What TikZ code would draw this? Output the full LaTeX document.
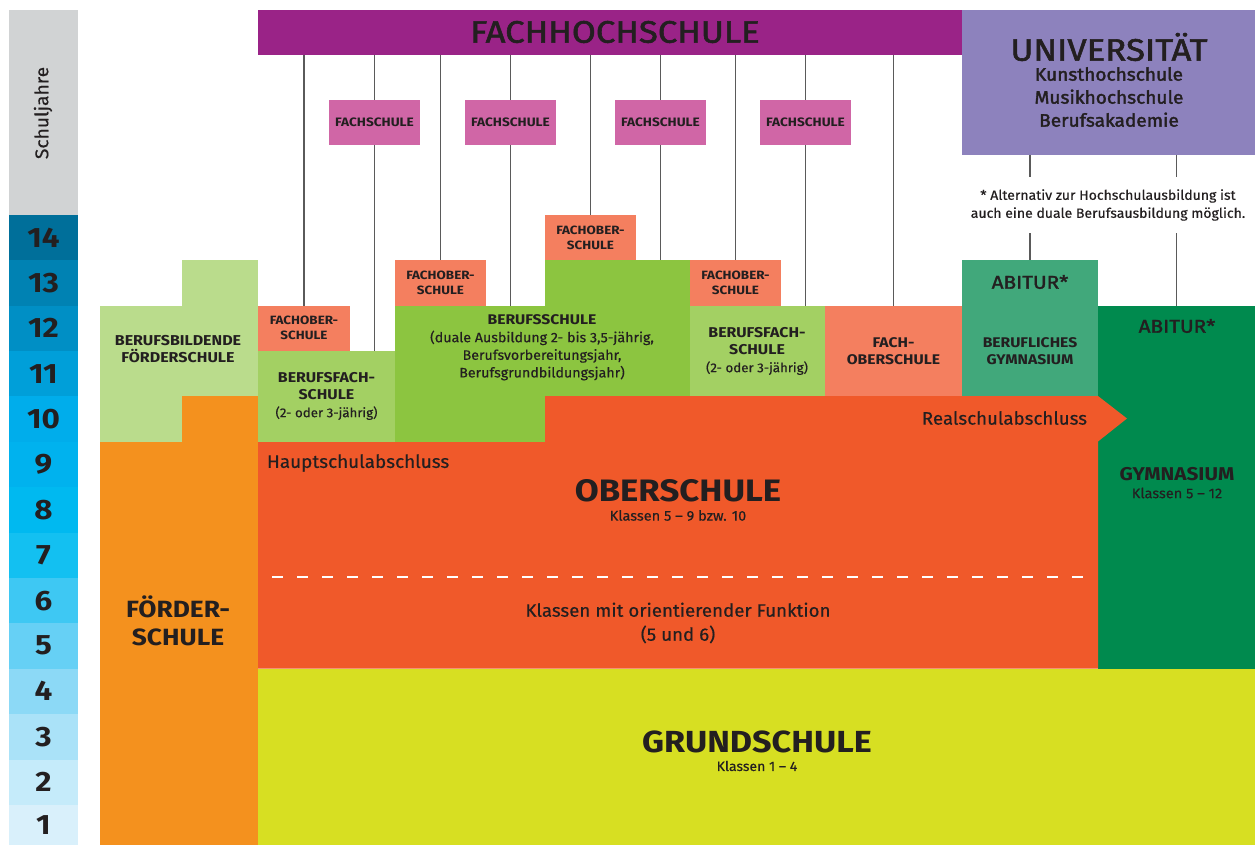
\documentclass[tikz,border=0pt]{standalone}
\usepackage{fontspec}
\setmainfont{Fira Sans}[UprightFeatures={FakeStretch=1.04, FakeBold=0.4}, BoldFeatures={FakeStretch=1.12}]
\newfontfamily\capsfont{Fira Sans}[FakeStretch=1.12, FakeBold=1.8]
\newfontfamily\medfont{Fira Sans}[FakeStretch=1.06, FakeBold=2]
\usetikzlibrary{calc}
\definecolor{txt}{HTML}{231F20}
\definecolor{ygrey}{HTML}{D1D3D4}
\definecolor{yA}{HTML}{006F9A}
\definecolor{yB}{HTML}{0082B3}
\definecolor{yC}{HTML}{008FC5}
\definecolor{yD}{HTML}{009FD9}
\definecolor{yE}{HTML}{00ADEB}
\definecolor{yF}{HTML}{00B2EE}
\definecolor{yG}{HTML}{00B9F0}
\definecolor{yH}{HTML}{13C0F1}
\definecolor{yI}{HTML}{3EC8F3}
\definecolor{yJ}{HTML}{66D0F5}
\definecolor{yK}{HTML}{8CD9F6}
\definecolor{yL}{HTML}{AAE2F8}
\definecolor{yM}{HTML}{C5EBFA}
\definecolor{yN}{HTML}{D9F0FB}
\definecolor{fhc}{HTML}{9A2387}
\definecolor{unic}{HTML}{8D82BD}
\definecolor{fsc}{HTML}{D066A6}
\definecolor{fobc}{HTML}{F47F5F}
\definecolor{bfsc}{HTML}{A3D063}
\definecolor{bsc}{HTML}{8CC540}
\definecolor{bfoc}{HTML}{BADC8C}
\definecolor{foec}{HTML}{F4911E}
\definecolor{obc}{HTML}{F0592A}
\definecolor{gsc}{HTML}{D7DF22}
\definecolor{bgc}{HTML}{41A87B}
\definecolor{gyc}{HTML}{008A4E}
\definecolor{linec}{HTML}{5A5A5A}
\newcommand\fsz[2]{\fontsize{#1}{#2}\selectfont}
\tikzset{
  area/.style={rectangle, inner sep=0pt, outer sep=0pt, anchor=north west, draw=none},
  yr/.style={area, minimum width=69pt, text=txt, font=\fsz{28}{30}\bfseries},
  lbl/.style={inner sep=0pt, outer sep=0pt, align=center, text=txt},
  fsbox/.style={area, fill=fsc, minimum width=91pt, minimum height=45.5pt, font=\fsz{12.2}{14}\bfseries, text=txt},
  fobtext/.style={lbl, font=\fsz{12}{15}\bfseries},
  conn/.style={draw=linec, line width=1.3pt},
}
\begin{document}
\begin{tikzpicture}[x=1pt,y=-1pt]
\useasboundingbox (0,0) rectangle (1255,845);
\fill[white] (0,0) rectangle (1255,845);
% year column
\node[area, fill=ygrey, minimum width=69pt, minimum height=205pt] (ygr) at (9,10) {};
\node[lbl, rotate=90, font=\fsz{18.5}{20}] (sj) at (43,113) {Schuljahre};
\node[yr, fill=yA, minimum height=45.5pt] (y14) at (9,215) {14};
\node[yr, fill=yB, minimum height=45.5pt] (y13) at (9,260) {13};
\node[yr, fill=yC, minimum height=45.5pt] (y12) at (9,305.5) {12};
\node[yr, fill=yD, minimum height=45.5pt] (y11) at (9,351) {11};
\node[yr, fill=yE, minimum height=45.5pt] (y10) at (9,396) {10};
\node[yr, fill=yF, minimum height=45.5pt] (y9) at (9,441.5) {9};
\node[yr, fill=yG, minimum height=45.5pt] (y8) at (9,487) {8};
\node[yr, fill=yH, minimum height=45.5pt] (y7) at (9,532.5) {7};
\node[yr, fill=yI, minimum height=45.5pt] (y6) at (9,578) {6};
\node[yr, fill=yJ, minimum height=45.5pt] (y5) at (9,623) {5};
\node[yr, fill=yK, minimum height=45.5pt] (y4) at (9,668.5) {4};
\node[yr, fill=yL, minimum height=45.5pt] (y3) at (9,714) {3};
\node[yr, fill=yM, minimum height=45.5pt] (y2) at (9,759.5) {2};
\node[yr, fill=yN, minimum height=40pt] (y1) at (9,805) {1};

% top institutions
\node[area, fill=fhc, minimum width=704pt, minimum height=45pt] (fh) at (258,10) {};
\node[lbl, font=\capsfont\fsz{31}{33}] (fht) at (615,32) {FACHHOCHSCHULE};
\node[area, fill=unic, minimum width=293pt, minimum height=145pt] (uni) at (962,10) {};
\node[lbl, font=\capsfont\fsz{31}{33}] (unit) at (1109,47) {UNIVERSITÄT};
\node[lbl, font=\medfont\fsz{18}{23}] (unis) at (1109,97) {Kunsthochschule\\Musikhochschule\\Berufsakademie};

% Fachschulen
\node[fsbox] (fs1) at (329,100) {FACHSCHULE};
\node[fsbox] (fs2) at (465,100) {FACHSCHULE};
\node[fsbox] (fs3) at (615,100) {FACHSCHULE};
\node[fsbox] (fs4) at (760,100) {FACHSCHULE};

% Grundschule
\node[area, fill=gsc, minimum width=997pt, minimum height=177pt] (gs) at (258,668.5) {};
\node[lbl, font=\fsz{30.5}{32}\bfseries] (gst) at (757,742) {GRUNDSCHULE};
\node[lbl, font=\fsz{13.5}{15}] (gsk) at (757,766) {Klassen 1 – 4};

% Gymnasium
\node[area, fill=gyc, minimum width=157pt, minimum height=363.5pt] (gym) at (1098,305.5) {};
\node[lbl, font=\capsfont\fsz{18.5}{20}] (gyab) at (1177,326) {ABITUR*};
\node[lbl, font=\fsz{18.5}{21}\bfseries] (gyt) at (1177,474) {GYMNASIUM};
\node[lbl, font=\fsz{14}{16}] (gyk) at (1177,493) {Klassen 5 – 12};

% Oberschule
\fill[obc] (258,441.5) -- (545,441.5) -- (545,396) -- (1098,396) -- (1127,418.5) -- (1098,441.5) -- (1098,668.5) -- (258,668.5) -- cycle;
\draw[white, line width=1.3pt, dash pattern=on 11pt off 14pt] (272,577) -- (1095,577);
\node[lbl, font=\fsz{31}{33}\bfseries] (obt) at (678,491) {OBERSCHULE};
\node[lbl, font=\fsz{14}{15}] (obk) at (678,515.5) {Klassen 5 – 9 bzw. 10};
\node[lbl, font=\fsz{18}{24}] (obo) at (678,623) {Klassen mit orientierender Funktion\\(5 und 6)};
\node[lbl, anchor=west, font=\fsz{18.2}{20}] (hsa) at (267,463) {Hauptschulabschluss};
\node[lbl, anchor=east, font=\fsz{18}{20}] (rsa) at (1087,418) {Realschulabschluss};

% Förderschule
\node[area, fill=foec, minimum width=82pt, minimum height=404pt] (foeA) at (100,441.5) {};
\node[area, fill=foec, minimum width=76pt, minimum height=449pt] (foeB) at (182,396) {};
\node[lbl, font=\fsz{23.5}{28}\bfseries] (foet) at (178,621) {FÖRDER-\\SCHULE};

% Berufsbildende Förderschule
\node[area, fill=bfoc, minimum width=82pt, minimum height=136pt] (bfoA) at (100,305.5) {};
\node[area, fill=bfoc, minimum width=76pt, minimum height=136pt] (bfoB) at (182,260) {};
\node[lbl, font=\fsz{14.3}{17}\bfseries] (bfot) at (178,349.5) {BERUFSBILDENDE\\FÖRDERSCHULE};

% Fachoberschule small boxes
\node[area, fill=fobc, minimum width=92pt, minimum height=45.5pt] (fob1) at (258,305.5) {};
\node[fobtext] (fob1t) at (304,327.5) {FACHOBER-\\SCHULE};
\node[area, fill=fobc, minimum width=91pt, minimum height=45.5pt] (fob2) at (395,260) {};
\node[fobtext] (fob2t) at (440.5,282.5) {FACHOBER-\\SCHULE};
\node[area, fill=fobc, minimum width=91pt, minimum height=45pt] (fob3) at (545,215) {};
\node[fobtext] (fob3t) at (590.5,237.5) {FACHOBER-\\SCHULE};
\node[area, fill=fobc, minimum width=91pt, minimum height=45.5pt] (fob4) at (690,260) {};
\node[fobtext] (fob4t) at (735.5,282.5) {FACHOBER-\\SCHULE};

% Berufsfachschulen
\node[area, fill=bfsc, minimum width=137pt, minimum height=91pt] (bfs1) at (258,351) {};
\node[lbl, font=\fsz{14.2}{17.5}\bfseries] (bfs1t) at (326.5,396) {BERUFSFACH-\\SCHULE\\\fsz{12.8}{17.5}\mdseries(2- oder 3-jährig)};
\node[area, fill=bfsc, minimum width=135pt, minimum height=90.5pt] (bfs2) at (690,305.5) {};
\node[lbl, font=\fsz{14.2}{17.5}\bfseries] (bfs2t) at (757,351) {BERUFSFACH-\\SCHULE\\\fsz{12.8}{17.5}\mdseries(2- oder 3-jährig)};

% Berufsschule
\node[area, fill=bsc, minimum width=150pt, minimum height=136pt] (bsA) at (395,305.5) {};
\node[area, fill=bsc, minimum width=145pt, minimum height=136pt] (bsB) at (545,260) {};
\node[lbl, font=\fsz{13.7}{17.6}] (bst) at (542,347.5) {{\fsz{14}{17.6}\bfseries BERUFSSCHULE}\\(duale Ausbildung 2- bis 3,5-jährig,\\Berufsvorbereitungsjahr,\\Berufsgrundbildungsjahr)};

% Fachoberschule large
\node[area, fill=fobc, minimum width=137pt, minimum height=90.5pt] (fos) at (825,305.5) {};
\node[lbl, font=\fsz{14}{17.5}\bfseries] (fost) at (893.5,351) {FACH-\\OBERSCHULE};

% Berufliches Gymnasium
\node[area, fill=bgc, minimum width=136pt, minimum height=136pt] (bgym) at (962,260) {};
\node[lbl, font=\capsfont\fsz{18.5}{20}] (bgab) at (1030,282) {ABITUR*};
\node[lbl, font=\fsz{14}{17.5}\bfseries] (bgt) at (1030,351) {BERUFLICHES\\GYMNASIUM};

% connectors
\draw[conn] (fob1.north |- fh.south) -- (fob1.north);
\draw[conn] (fs1.north |- fh.south) -- (fs1.north);
\draw[conn] (fs1.south) -- (fs1.south |- bfs1.north);
\draw[conn] (fob2.north |- fh.south) -- (fob2.north);
\draw[conn] (fs2.north |- fh.south) -- (fs2.north);
\draw[conn] (fs2.south) -- (fs2.south |- bsA.north);
\draw[conn] (fob3.north |- fh.south) -- (fob3.north);
\draw[conn] (fs3.north |- fh.south) -- (fs3.north);
\draw[conn] (fs3.south) -- (fs3.south |- bsB.north);
\draw[conn] (fob4.north |- fh.south) -- (fob4.north);
\draw[conn] (fs4.north |- fh.south) -- (fs4.north);
\draw[conn] (fs4.south) -- (fs4.south |- bfs2.north);
\draw[conn] (fos.north |- fh.south) -- (fos.north);
\draw[conn] (bgym.north |- uni.south) -- (bgym.north);
\draw[conn] (gym.north |- uni.south) -- (gym.north);
\node[lbl, fill=white, minimum height=56pt, inner xsep=2pt, font=\fsz{13.5}{18}] (note) at (1108,205) {* Alternativ zur Hochschulausbildung ist\\auch eine duale Berufsausbildung möglich.};
\end{tikzpicture}
\end{document}
